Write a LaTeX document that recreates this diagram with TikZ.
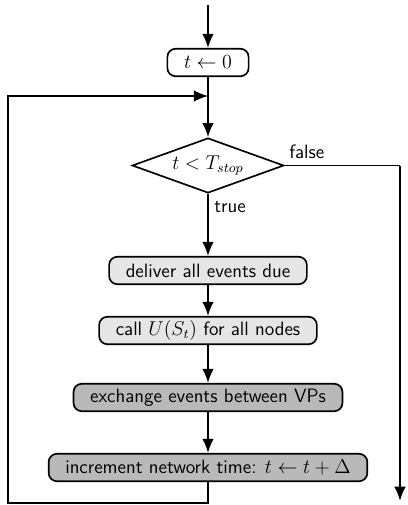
\documentclass[tikz,border=0pt]{standalone}
\usepackage{amsmath}
\usepackage{tikz}
\usetikzlibrary{shapes.geometric, arrows.meta, positioning, calc}
\definecolor{boxlight}{HTML}{E6E6E6}
\definecolor{boxdark}{HTML}{B9B9B9}
\begin{document}
\begin{tikzpicture}[
    x=1pt, y=1pt,
    font=\sffamily\fontsize{11.6pt}{14pt}\selectfont,
    flow/.style={line width=1pt, -{Latex[length=8.5pt, width=7pt]}},
    link/.style={line width=1pt},
    stepbox/.style={draw, line width=1pt, rounded corners=5pt, minimum height=16.5pt, inner xsep=10pt, inner ysep=2pt},
    decide/.style={draw, line width=1pt, diamond, aspect=2.75, minimum width=91pt, minimum height=33pt, inner sep=0pt}
  ]
  \useasboundingbox (0,0) rectangle (244.2,-303);
  \coordinate (start) at (124.8,-3);
  \node[stepbox] (init) at (124.8,-37.5) {$t \leftarrow 0$};
  \coordinate (join) at (124.8,-57.6);
  \node[decide] (test) at (124.8,-99.3) {$t < T_{stop}$};
  \node[stepbox, fill=boxlight] (deliver) at (124.8,-162.3) {deliver all events due};
  \node[stepbox, fill=boxlight] (update) at (124.8,-198.3) {call $U(S_t)$ for all nodes};
  \node[stepbox, fill=boxdark] (exchange) at (124.8,-238.5) {exchange events between VPs};
  \node[stepbox, fill=boxdark] (advance) at (124.8,-280.5) {increment network time: $t \leftarrow t + \Delta$};
  \coordinate (bottom) at (124.8,-301.8);
  \coordinate (left) at (4.8,-301.8);
  \coordinate (outcorner) at (240,-99.3);
  \coordinate (out) at (240,-300.5);

  \draw[flow] (start) -- (init);
  \draw[link] (init) -- (join);
  \draw[flow] (join) -- (test);
  \draw[flow] (test) -- node[right, pos=0.22] {true} (deliver);
  \draw[flow] (deliver) -- (update);
  \draw[flow] (update) -- (exchange);
  \draw[flow] (exchange) -- (advance);
  \draw[flow] (advance) -- (bottom) -- (left) |- (join);
  \draw[link] (test) -- node[above right, pos=0, xshift=-1pt] {false} (outcorner);
  \draw[flow] (outcorner) -- (out);
\end{tikzpicture}
\end{document}
